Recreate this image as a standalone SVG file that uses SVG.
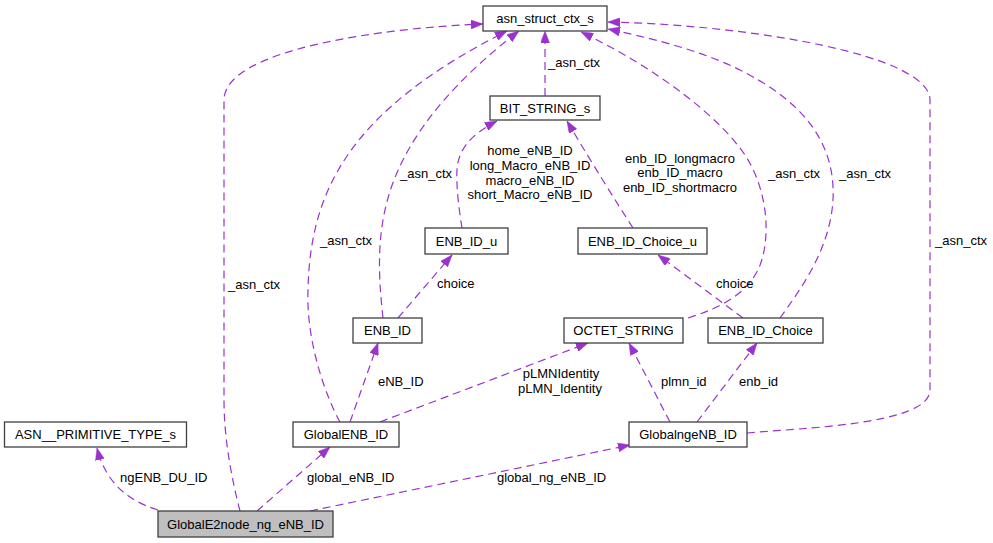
<svg xmlns="http://www.w3.org/2000/svg" width="993" height="543" viewBox="0 0 993 543">
<style>
.node rect{fill:#ffffff;stroke:#404040;stroke-width:1.3}
.node.main rect{fill:#bfbfbf}
text{font-family:"Liberation Sans",Arial,sans-serif;font-size:13px;fill:#000000}
.node text{text-anchor:middle}
.edge path{fill:none;stroke:#9a32cd;stroke-width:1.2;stroke-dasharray:8,5;marker-end:url(#arr)}
.lbl text.m{text-anchor:middle}
</style>
<defs>
<marker id="arr" viewBox="0 0 12 9" refX="12" refY="4.5" markerWidth="12" markerHeight="9" markerUnits="userSpaceOnUse" orient="auto">
<path d="M0,0 L12,4.5 L0,9 z" fill="#9a32cd" stroke="#9a32cd" stroke-width="0.5"/>
</marker>
</defs>
<rect width="993" height="543" fill="#ffffff"/>
<g id="connectors">
<g class="edge">
<path d="M240,511 C232,480 224,440 224,400 L224,100 C224,50 380,28 483,24"/>
<path d="M340,422 C325,395 306,340 308,290 C310,190 350,110 507,31"/>
<path d="M383,318 C380,290 376,250 385,210 C400,140 455,80 519,31"/>
<path d="M545,96 L545,31"/>
<path d="M462,228 C459,210 456,185 457,170 C458,150 470,135 497,121"/>
<path d="M633,228 C615,200 590,160 567,121"/>
<path d="M398,318 L452,255"/>
<path d="M743,318 L658,255"/>
<path d="M688,318 C720,308 745,295 758,270 C772,240 768,190 745,155 C720,118 660,70 581,32"/>
<path d="M780,318 C800,290 830,250 833,200 C836,140 800,100 740,70 C700,50 650,38 608,29"/>
<path d="M747,433 C800,428 930,425 930,390 L930,100 C930,55 750,25 608,22"/>
<path d="M350,422 L378,343"/>
<path d="M380,422 L588,343"/>
<path d="M670,422 L629,343"/>
<path d="M697,422 L757,343"/>
<path d="M158,510 C125,500 105,480 97,448"/>
<path d="M257,511 L330,447"/>
<path d="M310,511 L630,445"/>
</g>
<g class="lbl">
<text x="228" y="289">_asn_ctx</text>
<text x="320" y="245">_asn_ctx</text>
<text x="400" y="178">_asn_ctx</text>
<text x="548" y="67">_asn_ctx</text>
<text class="m" x="530" y="155">home_eNB_ID</text>
<text class="m" x="530" y="170">long_Macro_eNB_ID</text>
<text class="m" x="530" y="185">macro_eNB_ID</text>
<text class="m" x="530" y="199">short_Macro_eNB_ID</text>
<text class="m" x="680" y="163">enb_ID_longmacro</text>
<text class="m" x="680" y="177">enb_ID_macro</text>
<text class="m" x="680" y="192">enb_ID_shortmacro</text>
<text x="437" y="288">choice</text>
<text x="716" y="288">choice</text>
<text x="768" y="178">_asn_ctx</text>
<text x="839" y="178">_asn_ctx</text>
<text x="935" y="245">_asn_ctx</text>
<text x="378" y="386">eNB_ID</text>
<text class="m" x="561" y="378">pLMNIdentity</text>
<text class="m" x="560" y="393">pLMN_Identity</text>
<text x="661" y="386">plmn_id</text>
<text x="739" y="386">enb_id</text>
<text x="120" y="482">ngENB_DU_ID</text>
<text x="307" y="482">global_eNB_ID</text>
<text x="497" y="482">global_ng_eNB_ID</text>
</g>
</g>
<g id="asn_struct_ctx_s" class="node"><rect x="483" y="6" width="124" height="25"/><text x="545" y="23">asn_struct_ctx_s</text></g>
<g id="BIT_STRING_s" class="node"><rect x="490" y="96" width="110" height="24"/><text x="545" y="113">BIT_STRING_s</text></g>
<g id="ENB_ID_u" class="node"><rect x="425" y="228" width="83" height="26"/><text x="466.5" y="246">ENB_ID_u</text></g>
<g id="ENB_ID_Choice_u" class="node"><rect x="578" y="228" width="129" height="26"/><text x="642.5" y="246">ENB_ID_Choice_u</text></g>
<g id="ENB_ID" class="node"><rect x="353" y="318" width="69" height="25"/><text x="387.5" y="335">ENB_ID</text></g>
<g id="OCTET_STRING" class="node"><rect x="564" y="318" width="119" height="25"/><text x="623.5" y="335">OCTET_STRING</text></g>
<g id="ENB_ID_Choice" class="node"><rect x="708" y="318" width="115" height="25"/><text x="765.5" y="335">ENB_ID_Choice</text></g>
<g id="ASN__PRIMITIVE_TYPE_s" class="node"><rect x="4.5" y="422" width="182" height="25"/><text x="95.5" y="439">ASN__PRIMITIVE_TYPE_s</text></g>
<g id="GlobalENB_ID" class="node"><rect x="293" y="422" width="106" height="25"/><text x="346" y="439">GlobalENB_ID</text></g>
<g id="GlobalngeNB_ID" class="node"><rect x="629" y="422" width="118" height="25"/><text x="688" y="439">GlobalngeNB_ID</text></g>
<g id="GlobalE2node_ng_eNB_ID" class="node main"><rect x="158" y="511" width="175" height="26"/><text x="245.5" y="529">GlobalE2node_ng_eNB_ID</text></g>
</svg>
